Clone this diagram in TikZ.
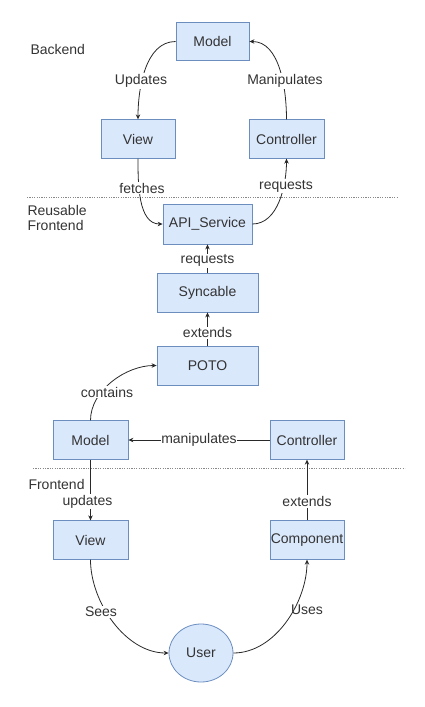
\documentclass[tikz,border=0pt]{standalone}
\usepackage{fontspec}
\setmainfont{Liberation Sans}
\usetikzlibrary{arrows.meta}
\definecolor{boxfill}{HTML}{DAE8FC}
\definecolor{boxline}{HTML}{6C8EBF}
\definecolor{txt}{HTML}{333333}
\definecolor{sep}{HTML}{888888}
\tikzset{
  box/.style={draw=boxline, fill=boxfill, line width=0.8pt, minimum width=#1, minimum height=38.5pt, inner sep=0pt, text=txt, font=\fontsize{14}{16}\selectfont},
  box/.default=74pt,
  usr/.style={draw=boxline, fill=boxfill, line width=0.8pt, ellipse, minimum width=64pt, minimum height=58pt, inner sep=0pt, text=txt, font=\fontsize{14}{16}\selectfont},
  lbl/.style={fill=white, inner sep=1pt, text=txt, font=\fontsize{14}{16}\selectfont},
  sect/.style={text=txt, font=\fontsize{14}{16}\selectfont, align=left},
  conn/.style={draw=txt!80!black, line width=0.8pt, -{Stealth[length=5pt,width=4.5pt]}},
  sepline/.style={draw=sep, line width=0.8pt, dash pattern=on 1.2pt off 1.2pt},
}
\usetikzlibrary{shapes.geometric}
\begin{document}
\begin{tikzpicture}[x=1pt,y=-1pt]
\useasboundingbox (0,0) rectangle (425,707);
% separators
\coordinate (s1a) at (27,197); \coordinate (s1b) at (398,197);
\coordinate (s2a) at (33,468); \coordinate (s2b) at (405,468);
\draw[sepline] (s1a) -- (s1b);
\draw[sepline] (s2a) -- (s2b);
% section labels
\node[sect, anchor=west] (lb) at (27,49) {Backend};
\node[sect, anchor=west, align=left] (lr) at (24,218) {Reusable\\[-1pt]Frontend};
\node[sect, anchor=west] (lf) at (25,484) {Frontend};
% backend
\node[box=73pt] (bm) at (212.5,41.5) {Model};
\node[box] (bv) at (138,139) {View};
\node[box=75pt] (bc) at (286.5,139) {Controller};
% reusable
\node[box=89pt, minimum height=40pt] (api) at (207.5,224) {API\_Service};
\node[box=101pt, minimum height=39pt] (syn) at (207.5,292.5) {Syncable};
\node[box=101pt, minimum height=39pt] (poto) at (207.5,365.5) {POTO};
% frontend
\node[box=75pt] (fm) at (90.5,440) {Model};
\node[box] (fc) at (307,440) {Controller};
\node[box=75pt] (fv) at (90.5,540) {View};
\node[box] (comp) at (307,540) {Component};
\node[usr] (user) at (201,653) {User};
% connectors
\draw[conn] (bm.west) to[out=180,in=90,looseness=0.9] (bv.north);
\draw[conn] (bc.north) to[out=90,in=0,looseness=0.9] (bm.east);
\draw[conn] (bv.south) to[out=-90,in=180,looseness=0.9] (api.west);
\draw[conn] (api.east) to[out=0,in=-90,looseness=0.9] (bc.south);
\draw[conn] (syn.north) -- node[lbl, pos=0.42] (l_req2) {requests} (api.south);
\draw[conn] (poto.north) -- node[lbl, pos=0.38] (l_ext) {extends} (syn.south);
\draw[conn] (fm.north) to[out=90,in=180,looseness=0.9] (poto.west);
\draw[conn] (fc.west) -- node[lbl, inner sep=0pt] (l_man) {manipulates} (fm.east);
\draw[conn] (fm.south) -- node[lbl, pos=0.69, xshift=-3pt] (l_upd) {updates} (fv.north);
\draw[conn] (comp.north) -- node[lbl, pos=0.31] (l_ext2) {extends} (fc.south);
\draw[conn] (fv.south) to[out=-90,in=180,looseness=0.9] (user.west);
\draw[conn] (user.east) to[out=0,in=-90,looseness=0.9] (comp.south);
% curve labels
\node[lbl] (l_up) at (141,81) {Updates};
\node[lbl] (l_mp) at (285,81) {Manipulates};
\node[lbl] (l_fe) at (142,188) {fetches};
\node[lbl] (l_rq) at (286,186) {requests};
\node[lbl] (l_co) at (107,392) {contains};
\node[lbl] (l_se) at (101,612) {Sees};
\node[lbl, fill=none] (l_us) at (307,610) {Uses};
\end{tikzpicture}
\end{document}
